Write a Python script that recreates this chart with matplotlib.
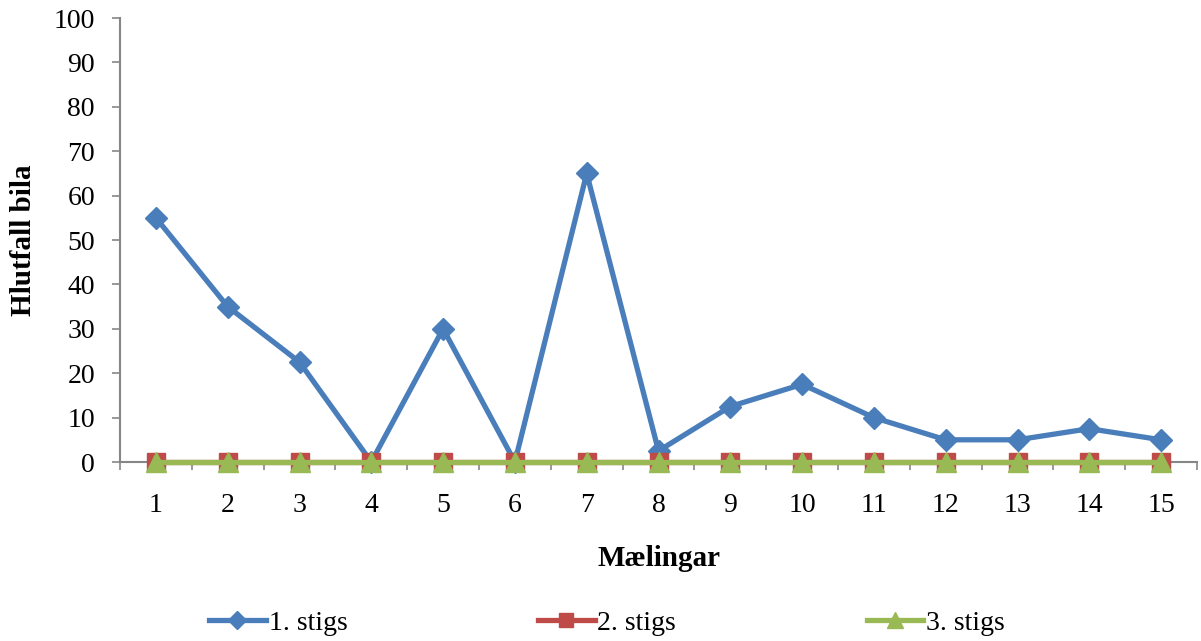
import numpy as np
import matplotlib
matplotlib.use("Agg")
import matplotlib.pyplot as plt
from matplotlib.ticker import FixedLocator, NullFormatter

plt.rcParams['font.family'] = ['Liberation Serif', 'DejaVu Serif']

# data
categories = list(range(1, 16))
stig1 = [55, 35, 22.5, 0, 30, 0, 65, 2.5, 12.5, 17.5, 10, 5, 5, 7.5, 5]
stig2 = [0] * 15
stig3 = [0] * 15
labels = ["1. stigs", "2. stigs", "3. stigs"]

fig = plt.figure(figsize=(12.01, 6.41), dpi=100)
ax = fig.add_axes([120 / 1201, 1 - 462 / 641, (1197 - 120) / 1201, (462 - 18) / 641])

x = np.array(categories)
ax.plot(x, stig1, color='#4A7EBB', lw=3.8, marker='D', ms=11, label=labels[0], zorder=3)
ax.plot(x, stig2, color='#BE4B48', lw=3.8, marker='s', ms=13, label=labels[1], zorder=4)
ax.plot(x, stig3, color='#98B954', lw=3.8, marker='^', ms=14, label=labels[2], zorder=5)

ax.set_xlim(0.5, 15.5)
ax.set_ylim(0, 100)
ax.set_yticks(np.arange(0, 101, 10))
ax.set_xticks(x)
ax.xaxis.set_minor_locator(FixedLocator(np.arange(0.5, 15.6, 1)))
ax.xaxis.set_minor_formatter(NullFormatter())
ax.tick_params(axis='x', which='major', length=0, pad=22, labelsize=20)
ax.tick_params(axis='x', which='minor', length=6, color='#868686', width=1.2)
ax.tick_params(axis='y', length=6, color='#868686', width=1.2, labelsize=20, pad=12)

for s in ['top', 'right']:
    ax.spines[s].set_visible(False)
for s in ['left', 'bottom']:
    ax.spines[s].set_color('#868686')
    ax.spines[s].set_linewidth(1.5)

ax.set_ylabel('Hlutfall bila', fontsize=21, fontweight='bold')
ax.yaxis.set_label_coords(-(120 - 24) / 1077, 0.5)
ax.set_xlabel('Mælingar', fontsize=21, fontweight='bold')
ax.xaxis.set_label_coords(0.5, -(558 - 462) / 444)
ax.xaxis.label.set_va('center')
ax.yaxis.label.set_va('center')
ax.patch.set_visible(False)
for art in ax.lines:
    art.set_clip_on(False)

fig.legend(loc='center', bbox_to_anchor=(607 / 1201, 1 - 623 / 641), ncol=3, frameon=False,
           fontsize=20, handlelength=2.05, handletextpad=0.1, columnspacing=6.85,
           markerscale=0.8)

fig.savefig('out.png', dpi=100)
